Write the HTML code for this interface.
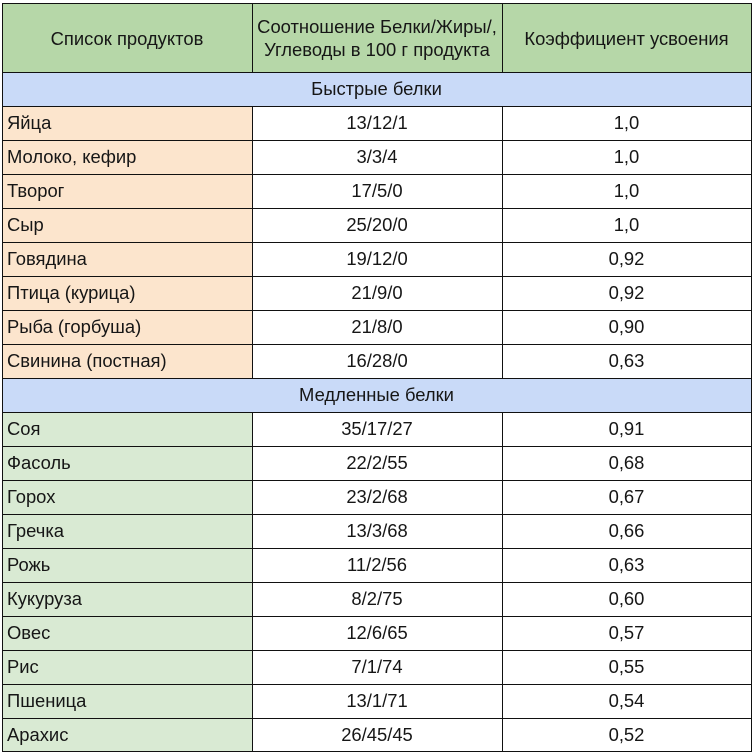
<!DOCTYPE html>
<html><head><meta charset="utf-8">
<style>
html,body{margin:0;padding:0;background:#fff;}
body{width:755px;height:754px;position:relative;overflow:hidden;font-family:"Liberation Sans",Arial,sans-serif;font-size:18.4px;color:#161616;}
.c{position:absolute;height:34px;line-height:34px;white-space:nowrap;box-sizing:border-box;}
.c1{left:2px;width:250px;padding-left:5px;}
.c2{left:252px;width:250px;text-align:center;background:#fff;}
.c3{left:502px;width:249px;text-align:center;background:#fff;}
.o{background:#fce5cd;}
.g{background:#d9ead3;}
.s{left:2px;width:749px;text-align:center;background:#c9daf8;}
.h{position:absolute;top:3px;height:69px;background:#b6d7a8;display:flex;align-items:center;justify-content:center;text-align:center;line-height:23px;box-sizing:border-box;padding-top:1px;}
.hl{position:absolute;left:2px;width:750px;height:1px;background:#111;}
.vl{position:absolute;width:1px;background:#111;}
</style></head><body>

<div class="h" style="left:2px;width:250px;">Список продуктов</div>
<div class="h" style="left:252px;width:250px;">Соотношение Белки/Жиры/,<br>Углеводы в 100 г продукта</div>
<div class="h" style="left:502px;width:249px;">Коэффициент усвоения</div>

<div class="c s" style="top:72px;">Быстрые белки</div>

<div class="c c1 o" style="top:106px;">Яйца</div><div class="c c2" style="top:106px;">13/12/1</div><div class="c c3" style="top:106px;">1,0</div>
<div class="c c1 o" style="top:140px;">Молоко, кефир</div><div class="c c2" style="top:140px;">3/3/4</div><div class="c c3" style="top:140px;">1,0</div>
<div class="c c1 o" style="top:174px;">Творог</div><div class="c c2" style="top:174px;">17/5/0</div><div class="c c3" style="top:174px;">1,0</div>
<div class="c c1 o" style="top:208px;">Сыр</div><div class="c c2" style="top:208px;">25/20/0</div><div class="c c3" style="top:208px;">1,0</div>
<div class="c c1 o" style="top:242px;">Говядина</div><div class="c c2" style="top:242px;">19/12/0</div><div class="c c3" style="top:242px;">0,92</div>
<div class="c c1 o" style="top:276px;">Птица (курица)</div><div class="c c2" style="top:276px;">21/9/0</div><div class="c c3" style="top:276px;">0,92</div>
<div class="c c1 o" style="top:310px;">Рыба (горбуша)</div><div class="c c2" style="top:310px;">21/8/0</div><div class="c c3" style="top:310px;">0,90</div>
<div class="c c1 o" style="top:344px;">Свинина (постная)</div><div class="c c2" style="top:344px;">16/28/0</div><div class="c c3" style="top:344px;">0,63</div>

<div class="c s" style="top:378px;">Медленные белки</div>

<div class="c c1 g" style="top:412px;">Соя</div><div class="c c2" style="top:412px;">35/17/27</div><div class="c c3" style="top:412px;">0,91</div>
<div class="c c1 g" style="top:446px;">Фасоль</div><div class="c c2" style="top:446px;">22/2/55</div><div class="c c3" style="top:446px;">0,68</div>
<div class="c c1 g" style="top:480px;">Горох</div><div class="c c2" style="top:480px;">23/2/68</div><div class="c c3" style="top:480px;">0,67</div>
<div class="c c1 g" style="top:514px;">Гречка</div><div class="c c2" style="top:514px;">13/3/68</div><div class="c c3" style="top:514px;">0,66</div>
<div class="c c1 g" style="top:548px;">Рожь</div><div class="c c2" style="top:548px;">11/2/56</div><div class="c c3" style="top:548px;">0,63</div>
<div class="c c1 g" style="top:582px;">Кукуруза</div><div class="c c2" style="top:582px;">8/2/75</div><div class="c c3" style="top:582px;">0,60</div>
<div class="c c1 g" style="top:616px;">Овес</div><div class="c c2" style="top:616px;">12/6/65</div><div class="c c3" style="top:616px;">0,57</div>
<div class="c c1 g" style="top:650px;">Рис</div><div class="c c2" style="top:650px;">7/1/74</div><div class="c c3" style="top:650px;">0,55</div>
<div class="c c1 g" style="top:684px;">Пшеница</div><div class="c c2" style="top:684px;">13/1/71</div><div class="c c3" style="top:684px;">0,54</div>
<div class="c c1 g" style="top:718px;">Арахис</div><div class="c c2" style="top:718px;">26/45/45</div><div class="c c3" style="top:718px;">0,52</div>

<!-- horizontal lines -->
<div class="hl" style="top:3px"></div>
<div class="hl" style="top:72px"></div>
<div class="hl" style="top:106px"></div>
<div class="hl" style="top:140px"></div>
<div class="hl" style="top:174px"></div>
<div class="hl" style="top:208px"></div>
<div class="hl" style="top:242px"></div>
<div class="hl" style="top:276px"></div>
<div class="hl" style="top:310px"></div>
<div class="hl" style="top:344px"></div>
<div class="hl" style="top:378px"></div>
<div class="hl" style="top:412px"></div>
<div class="hl" style="top:446px"></div>
<div class="hl" style="top:480px"></div>
<div class="hl" style="top:514px"></div>
<div class="hl" style="top:548px"></div>
<div class="hl" style="top:582px"></div>
<div class="hl" style="top:616px"></div>
<div class="hl" style="top:650px"></div>
<div class="hl" style="top:684px"></div>
<div class="hl" style="top:718px"></div>
<div class="hl" style="top:751px"></div>

<!-- vertical lines -->
<div class="vl" style="left:2px;top:3px;height:749px"></div>
<div class="vl" style="left:751px;top:3px;height:749px"></div>
<div class="vl" style="left:252px;top:3px;height:69px"></div>
<div class="vl" style="left:502px;top:3px;height:69px"></div>
<div class="vl" style="left:252px;top:106px;height:272px"></div>
<div class="vl" style="left:502px;top:106px;height:272px"></div>
<div class="vl" style="left:252px;top:412px;height:340px"></div>
<div class="vl" style="left:502px;top:412px;height:340px"></div>

</body></html>
